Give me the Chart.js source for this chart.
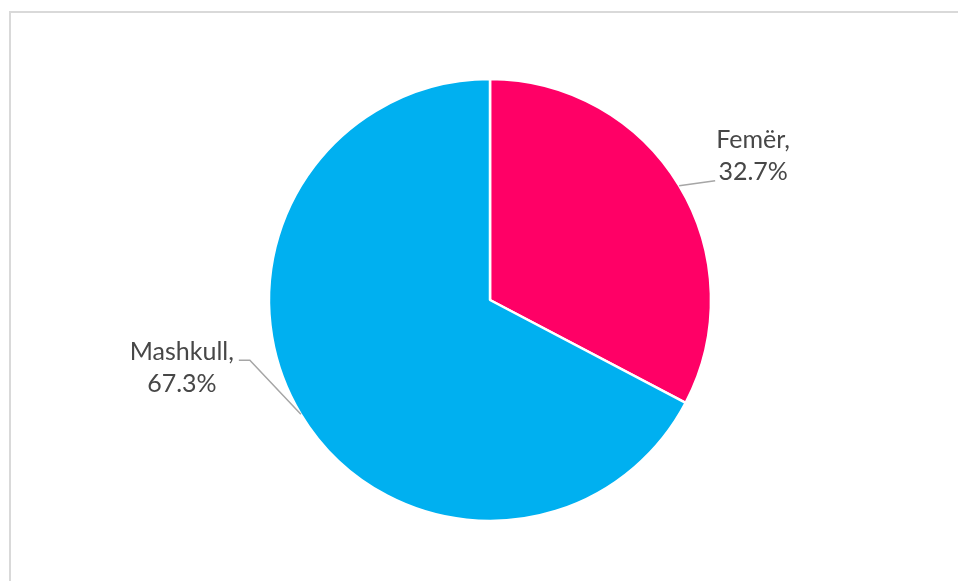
<!DOCTYPE html>
<html>
<head>
<meta charset="utf-8">
<script src="https://cdn.jsdelivr.net/npm/chart.js@4/dist/chart.umd.min.js"></script>
<style>
  html, body { margin: 0; padding: 0; background: #ffffff; }
  #wrap { width: 958px; height: 581px; position: relative; }
</style>
</head>
<body>
<div id="wrap"><canvas id="c" width="958" height="581"></canvas></div>
<script>
// Gender split
const categories = ['Femër', 'Mashkull'];
const shares = [32.7, 67.3];
const sliceColors = ['#FF0066', '#00B0F0'];

// Label placement relative to the slice's outer-edge midpoint
const labelLayout = [
  { leader: [[36, -5]], text: [74, -46], align: 'center' },
  { leader: [[-51, -54], [-62, -54]], text: [-119, -62], align: 'center' }
];

const framePlugin = {
  id: 'frame',
  beforeDraw(chart) {
    const ctx = chart.ctx;
    ctx.save();
    ctx.fillStyle = '#d9d9d9';
    ctx.fillRect(9, 11, chart.width - 9, 2);
    ctx.fillRect(9, 11, 2, chart.height - 11);
    ctx.restore();
  }
};

const sliceLabels = {
  id: 'sliceLabels',
  afterDatasetsDraw(chart) {
    const ctx = chart.ctx;
    const meta = chart.getDatasetMeta(0);
    ctx.save();
    meta.data.forEach((arc, i) => {
      const mid = (arc.startAngle + arc.endAngle) / 2;
      const ex = arc.x + Math.cos(mid) * arc.outerRadius;
      const ey = arc.y + Math.sin(mid) * arc.outerRadius;
      const lay = labelLayout[i];
      ctx.strokeStyle = '#a6a6a6';
      ctx.lineWidth = 1.5;
      ctx.beginPath();
      ctx.moveTo(ex, ey);
      lay.leader.forEach(p => ctx.lineTo(ex + p[0], ey + p[1]));
      ctx.stroke();
      ctx.fillStyle = '#474747';
      ctx.font = '25px Lato, "Liberation Sans", sans-serif';
      ctx.textAlign = lay.align;
      ctx.textBaseline = 'middle';
      const tx = ex + lay.text[0];
      const ty = ey + lay.text[1];
      ctx.fillText(categories[i] + ',', tx, ty);
      ctx.fillText(shares[i].toFixed(1) + '%', tx, ty + 32);
    });
    ctx.restore();
  }
};

new Chart(document.getElementById('c'), {
  type: 'pie',
  data: {
    labels: categories,
    datasets: [{
      data: shares,
      backgroundColor: sliceColors,
      borderColor: '#ffffff',
      borderWidth: 2.5,
      hoverOffset: 0
    }]
  },
  options: {
    responsive: false,
    animation: false,
    radius: 221,
    layout: { padding: { top: 79, bottom: 60, left: 22, right: 0 } },
    plugins: { legend: { display: false }, tooltip: { enabled: false } },
    events: []
  },
  plugins: [framePlugin, sliceLabels]
});
</script>
</body>
</html>
